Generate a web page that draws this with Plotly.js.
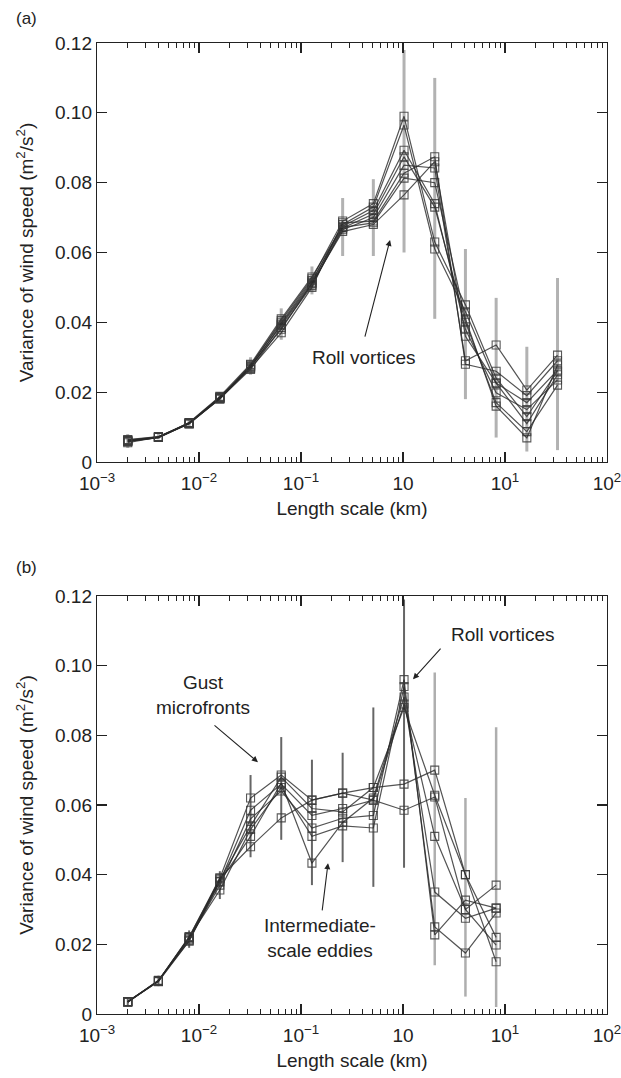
<!DOCTYPE html>
<html><head><meta charset="utf-8">
<script src="https://cdn.plot.ly/plotly-3.0.1.min.js"></script>
<style>html,body{margin:0;padding:0;background:#fff}#chart{width:621px;height:1078px}</style>
</head><body><div id="chart"></div>
<script>
// Length scale (km)
const lengthScaleA = [0.002,0.004,0.008,0.016,0.032,0.064,0.128,0.256,0.512,1.024,2.048,4.096,8.192,16.384,32.768];
const lengthScaleB = [0.002,0.004,0.008,0.016,0.032,0.064,0.128,0.256,0.512,1.024,2.048,4.096,8.192];

// Panel (a) series: variance of wind speed (m2/s2)
const seriesA1 = [0.0060,0.0072,0.0112,0.0185,0.0275,0.0405,0.0525,0.0690,0.0740,0.0990,0.0630,0.0450,0.0240,0.0130,0.0260];
const seriesA2 = [0.0062,0.0070,0.0110,0.0180,0.0270,0.0395,0.0515,0.0680,0.0730,0.0965,0.0610,0.0430,0.0226,0.0110,0.0250];
const seriesA3 = [0.0058,0.0071,0.0113,0.0188,0.0280,0.0410,0.0530,0.0675,0.0720,0.0893,0.0740,0.0380,0.0198,0.0150,0.0235];
const seriesA4 = [0.0064,0.0073,0.0111,0.0182,0.0265,0.0385,0.0505,0.0670,0.0710,0.0874,0.0730,0.0400,0.0170,0.0087,0.0220];
const seriesA5 = [0.0060,0.0070,0.0110,0.0184,0.0272,0.0392,0.0510,0.0665,0.0700,0.0850,0.0842,0.0290,0.0335,0.0206,0.0306];
const seriesA6 = [0.0055,0.0071,0.0112,0.0186,0.0268,0.0370,0.0500,0.0685,0.0690,0.0827,0.0874,0.0280,0.0260,0.0190,0.0290];
const seriesA7 = [0.0063,0.0072,0.0109,0.0183,0.0278,0.0400,0.0520,0.0672,0.0685,0.0813,0.0800,0.0410,0.0160,0.0069,0.0278];
const seriesA8 = [0.0059,0.0070,0.0111,0.0181,0.0274,0.0380,0.0512,0.0660,0.0680,0.0765,0.0860,0.0360,0.0226,0.0170,0.0263];
const errLowA  = [0.0040,0.0065,0.0100,0.0170,0.0250,0.0350,0.0480,0.0590,0.0590,0.0600,0.0410,0.0180,0.0070,0.0030,0.0034];
const errHighA = [0.0080,0.0080,0.0125,0.0200,0.0300,0.0440,0.0560,0.0756,0.0810,0.1180,0.1100,0.0610,0.0470,0.0330,0.0527];

// Panel (b) series
const seriesB1 = [0.0035,0.0095,0.0220,0.0390,0.0620,0.0686,0.0614,0.0634,0.0650,0.0660,0.0700,0.0400,0.0220];
const seriesB2 = [0.0034,0.0097,0.0210,0.0380,0.0585,0.0660,0.0570,0.0590,0.0614,0.0585,0.0623,0.0300,0.0370];
const seriesB3 = [0.0036,0.0094,0.0215,0.0370,0.0560,0.0640,0.0534,0.0562,0.0570,0.0960,0.0227,0.0327,0.0304];
const seriesB4 = [0.0035,0.0096,0.0220,0.0356,0.0530,0.0650,0.0510,0.0540,0.0534,0.0940,0.0250,0.0175,0.0290];
const seriesB5 = [0.0034,0.0095,0.0218,0.0380,0.0510,0.0663,0.0433,0.0550,0.0620,0.0910,0.0350,0.0275,0.0304];
const seriesB6 = [0.0035,0.0093,0.0210,0.0390,0.0480,0.0563,0.0614,0.0634,0.0614,0.0890,0.0510,0.0300,0.0198];
const seriesB7 = [0.0036,0.0095,0.0222,0.0385,0.0540,0.0680,0.0590,0.0580,0.0650,0.0880,0.0628,0.0400,0.0150];
const errLowB  = [0.0025,0.0080,0.0190,0.0330,0.0450,0.0500,0.0370,0.0436,0.0365,0.0420,0.0140,0.0050,0.0020];
const errHighB = [0.0045,0.0110,0.0240,0.0410,0.0686,0.0795,0.0730,0.0750,0.0880,0.1190,0.0980,0.0620,0.0823];

const xTickVals = [0.001,0.01,0.1,1,10,100];
const xTickText = ['10<sup>\u22123</sup>','10<sup>\u22122</sup>','10<sup>\u22121</sup>','10','10<sup>1</sup>','10<sup>2</sup>'];
const yTickVals = [0,0.02,0.04,0.06,0.08,0.10,0.12];
const yTickText = ['0','0.02','0.04','0.06','0.08','0.10','0.12'];

const FONT = 'Liberation Sans, Arial, Helvetica, sans-serif';
const traces = [];

function errTrace(x, lo, hi, xa, ya, color, thick) {
  return {
    x: x, y: hi, xaxis: xa, yaxis: ya, type: 'scatter', mode: 'markers',
    marker: {size: 1, color: 'rgba(0,0,0,0)'},
    error_y: {type: 'data', symmetric: false, array: hi.map(() => 0),
      arrayminus: hi.map((h, i) => h - lo[i]), color: color, thickness: thick, width: 0},
    hoverinfo: 'skip', showlegend: false
  };
}
function lineTrace(x, y, xa, ya) {
  return {
    x: x, y: y, xaxis: xa, yaxis: ya, type: 'scatter', mode: 'lines+markers',
    line: {color: 'rgba(40,40,40,0.8)', width: 1.2},
    marker: {symbol: 'square-open', size: 8, color: 'rgba(60,60,60,0.85)', line: {width: 1.1}},
    showlegend: false
  };
}

traces.push(errTrace(lengthScaleA, errLowA, errHighA, 'x', 'y', 'rgba(165,165,165,0.85)', 3));
[seriesA1,seriesA2,seriesA3,seriesA4,seriesA5,seriesA6,seriesA7,seriesA8].forEach(s => traces.push(lineTrace(lengthScaleA, s, 'x', 'y')));

const nDark = 10;
traces.push(errTrace(lengthScaleB.slice(0, nDark), errLowB.slice(0, nDark), errHighB.slice(0, nDark), 'x2', 'y2', 'rgba(85,85,85,0.9)', 2));
traces.push(errTrace(lengthScaleB.slice(nDark), errLowB.slice(nDark), errHighB.slice(nDark), 'x2', 'y2', 'rgba(165,165,165,0.9)', 2.5));
[seriesB1,seriesB2,seriesB3,seriesB4,seriesB5,seriesB6,seriesB7].forEach(s => traces.push(lineTrace(lengthScaleB, s, 'x2', 'y2')));

function xAxis(domainAnchor) {
  return {
    type: 'log', range: [-3.0005, 2.0005], anchor: domainAnchor,
    tickmode: 'array', tickvals: xTickVals, ticktext: xTickText,
    ticks: 'inside', ticklen: 10, tickwidth: 1.2, tickcolor: '#222',
    minor: {ticks: 'inside', ticklen: 5, tickwidth: 1, tickcolor: '#222', dtick: 'D1', showgrid: false},
    showline: true, linecolor: '#222', linewidth: 1.2, mirror: 'ticks',
    showgrid: false, zeroline: false,
    ticklabelstandoff: 4, ticklabeloverflow: 'allow',
    tickfont: {family: FONT, size: 19, color: '#222'},
    title: {text: 'Length scale (km)', font: {family: FONT, size: 19, color: '#222'}, standoff: 8},
    automargin: false
  };
}
function yAxis(domain, anchor) {
  return {
    domain: domain, anchor: anchor, range: [0, 0.12],
    tickmode: 'array', tickvals: yTickVals, ticktext: yTickText,
    ticks: 'inside', ticklen: 10, tickwidth: 1.2, tickcolor: '#222',
    showline: true, linecolor: '#222', linewidth: 1.2, mirror: 'ticks',
    showgrid: false, zeroline: false,
    tickfont: {family: FONT, size: 19, color: '#222'},
    title: {text: 'Variance of wind speed (m<sup>2</sup>/s<sup>2</sup>)', font: {family: FONT, size: 19, color: '#222'}, standoff: 16},
    automargin: false
  };
}

const textAnn = (xr, yr, x, y, text) => ({xref: xr, yref: yr, x: x, y: y, text: text, showarrow: false,
  xanchor: 'center', yanchor: 'middle',
  font: {family: FONT, size: 19, color: '#222'}, align: 'center'});
const arrowAnn = (xr, yr, hx, hy, tx, ty) => ({xref: xr, yref: yr, axref: xr, ayref: yr, x: hx, y: hy, ax: tx, ay: ty,
  text: '', showarrow: true, arrowhead: 2, arrowsize: 1.1, arrowwidth: 1.1, arrowcolor: '#222'});
const panelAnn = (y, text) => ({xref: 'paper', yref: 'paper', x: -0.139, y: y, xanchor: 'center', yanchor: 'middle',
  text: text, showarrow: false, font: {family: FONT, size: 17, color: '#222'}});

const layout = {
  width: 621, height: 1078,
  margin: {l: 97, r: 14, t: 43, b: 64},
  paper_bgcolor: '#fff', plot_bgcolor: '#fff',
  showlegend: false,
  xaxis: xAxis('y'),
  yaxis: yAxis([0.5685, 1], 'x'),
  xaxis2: xAxis('y2'),
  yaxis2: yAxis([0, 0.4305], 'x2'),
  annotations: [
    panelAnn(1.0257, '(a)'),
    panelAnn(0.4603, '(b)'),
    textAnn('x', 'y', -0.392, 0.0298, 'Roll vortices'),
    arrowAnn('x', 'y', -0.127, 0.0636, -0.377, 0.0355),
    textAnn('x2', 'y2', -1.961, 0.0915, 'Gust<br>microfronts'),
    arrowAnn('x2', 'y2', -1.422, 0.0723, -1.863, 0.0832),
    textAnn('x2', 'y2', 0.971, 0.1088, 'Roll vortices'),
    arrowAnn('x2', 'y2', 0.098, 0.0961, 0.382, 0.1053),
    textAnn('x2', 'y2', -0.814, 0.0218, 'Intermediate-<br>scale eddies'),
    arrowAnn('x2', 'y2', -0.735, 0.0433, -0.794, 0.0293)
  ]
};

Plotly.newPlot('chart', traces, layout, {staticPlot: true, displayModeBar: false});
</script>
</body></html>
